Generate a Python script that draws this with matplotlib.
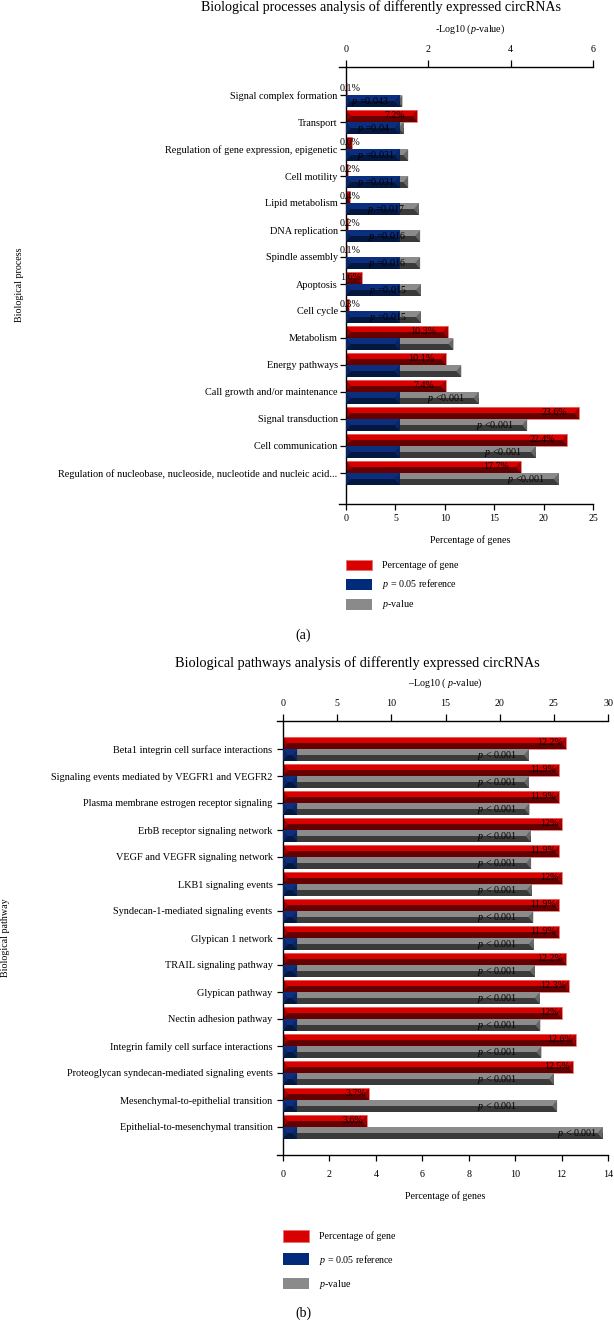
"""Two-panel enrichment bar chart for differently expressed circRNAs."""

import matplotlib

matplotlib.use("Agg")
import matplotlib.pyplot as plt
from matplotlib.patches import Patch

plt.rcParams["font.family"] = ["Liberation Serif", "DejaVu Serif"]
plt.rcParams["mathtext.fontset"] = "custom"
plt.rcParams["mathtext.it"] = "Liberation Serif:italic"
plt.rcParams["mathtext.rm"] = "Liberation Serif"

W, H = 614, 1322

# ---- panel (a): biological processes ----
process_names = [
    "Signal complex formation",
    "Transport",
    "Regulation of gene expression, epigenetic",
    "Cell motility",
    "Lipid metabolism",
    "DNA replication",
    "Spindle assembly",
    "Apoptosis",
    "Cell cycle",
    "Metabolism",
    "Energy pathways",
    "Call growth and/or maintenance",
    "Signal transduction",
    "Cell communication",
    "Regulation of nucleobase, nucleoside, nucleotide and nucleic acid...",
]
process_pct = [0.1, 7.2, 0.6, 0.2, 0.4, 0.2, 0.1, 1.6, 0.3, 10.3, 10.1, 10.1, 23.6, 22.4, 17.7]
process_pct_labels = ["0.1%", "7.2%", "0.6%", "0.2%", "0.4%", "0.2%", "0.1%", "1.6%",
                      "0.3%", "10.3%", "10.1%", "7.4%", "23.6%", "22.4%", "17.7%"]
process_logp = [1.37, 1.40, 1.51, 1.51, 1.77, 1.80, 1.80, 1.82, 1.82, 2.61, 2.80, 3.22, 4.40, 4.61, 5.17]
process_p_labels = ["$p$ =0.043", "$p$ =0.04", "$p$ =0.031", "$p$ =0.031", "$p$ =0.017",
                    "$p$ =0.016", "$p$ =0.016", "$p$ =0.015", "$p$ =0.015", "", "",
                    "$p$ <0.001", "$p$ <0.001", "$p$ <0.001", "$p$ <0.001"]

# ---- panel (b): biological pathways ----
pathway_names = [
    "Beta1 integrin cell surface interactions",
    "Signaling events mediated by VEGFR1 and VEGFR2",
    "Plasma membrane estrogen receptor signaling",
    "ErbB receptor signaling network",
    "VEGF and VEGFR signaling network",
    "LKB1 signaling events",
    "Syndecan-1-mediated signaling events",
    "Glypican 1 network",
    "TRAIL signaling pathway",
    "Glypican pathway",
    "Nectin adhesion pathway",
    "Integrin family cell surface interactions",
    "Proteoglycan syndecan-mediated signaling events",
    "Mesenchymal-to-epithelial transition",
    "Epithelial-to-mesenchymal transition",
]
pathway_pct = [12.2, 11.9, 11.9, 12, 11.9, 12, 11.9, 11.9, 12.2, 12.3, 12, 12.6, 12.5, 3.7, 3.6]
pathway_logp = [22.7, 22.7, 22.75, 22.85, 22.9, 22.95, 23.1, 23.15, 23.25, 23.7, 23.75, 23.85,
                25.0, 25.3, 29.5]

reference_logp = 1.3  # -log10(0.05)

RED = ("#d90000", "#640000", "#a30000")
BLUE = ("#0b2f7e", "#03173f", "#0a2560")
GRAY = ("#8b8b8b", "#3a3a3a", "#666666")


def fx(px):
    return px / W


def fy(py):
    return 1 - py / H


def bevel_barh(ax, ys, widths, height, colors, bevel, edge=None):
    light, dark, mid = colors
    ax.barh(ys, widths, height=height, color=dark, linewidth=0)
    ax.barh([y - height / 4 for y in ys], widths, height=height / 2, color=light, linewidth=0)
    for y, w in zip(ys, widths):
        b = min(bevel, w / 2)
        top, bot = y - height / 2, y + height / 2
        ax.fill([w, w, w - b], [top, bot, y], color=mid, lw=0)
        ax.fill([0, 0, b], [top, bot, y], color=mid, lw=0)
    if edge:
        ax.barh(ys, widths, height=height, fill=False, edgecolor=edge, linewidth=0.6)


def draw_panel(fig, box, names, pct, pct_labels, logp, p_labels, pct_ticks, logp_ticks,
               zero_px, row_px, style):
    left, right, top, bottom = box
    ax = fig.add_axes([fx(left), fy(bottom), fx(right - left), (bottom - top) / H])
    width_px = right - zero_px
    pct_pad = (zero_px - left) / width_px * pct_ticks[-1]
    logp_pad = (zero_px - left) / width_px * logp_ticks[-1]
    n = len(names)
    ys = list(range(n))
    y_top_gap = style["first_row"] / row_px
    y_bot_gap = style["last_gap"] / row_px

    ax.set_xlim(-pct_pad, pct_ticks[-1])
    ax.set_ylim(n - 1 + y_bot_gap, -y_top_gap)
    tax = ax.twiny()
    tax.set_xlim(-logp_pad, logp_ticks[-1])

    h = 11.5 / row_px
    off = 0.225
    pct_per_px = pct_ticks[-1] / width_px
    logp_per_px = logp_ticks[-1] / width_px

    red_y = [y - off for y in ys]
    low_y = [y + off for y in ys]
    bevel_barh(ax, red_y, pct, h, RED, 5 * pct_per_px, edge="#e97070")
    bevel_barh(tax, low_y, logp, h, GRAY, 5 * logp_per_px)
    bevel_barh(tax, low_y, [reference_logp] * n, h, BLUE, 5 * logp_per_px)

    # value labels on the percentage bars
    for y, v, lab in zip(red_y, pct, pct_labels):
        if v >= style["pct_small"]:
            ax.annotate(lab, (v, y), xytext=(-style["pct_offset"], 0.5), textcoords="offset points",
                        ha="right", va="center", fontsize=7.2)
        else:
            ax.annotate(lab, (0, y), xytext=(-4.5, 0.5), textcoords="offset points",
                        ha="left", va="center", fontsize=7.2)

    # p-value labels
    for y, v, lab in zip(low_y, logp, p_labels):
        if not lab:
            continue
        if style["p_fixed"] is not None and v < style["p_far"]:
            tax.annotate(lab, (style["p_fixed"], y), xytext=(0, -0.5), textcoords="offset points",
                         ha="right", va="center", fontsize=7.2)
        else:
            tax.annotate(lab, (v, y), xytext=(-style["p_offset"], -0.5), textcoords="offset points",
                         ha="right", va="center", fontsize=7.2)

    for spine in ("top", "right"):
        ax.spines[spine].set_visible(False)
    for spine in ("bottom", "left", "right"):
        tax.spines[spine].set_visible(False)
    ax.spines["left"].set_position(("data", 0))
    for s in (ax.spines["bottom"], ax.spines["left"], tax.spines["top"]):
        s.set_linewidth(1.0)

    ax.set_xticks(pct_ticks)
    ax.set_xticklabels([f"{t:g}" for t in pct_ticks])
    tax.set_xticks(logp_ticks)
    tax.set_xticklabels([f"{t:g}" for t in logp_ticks])
    ax.set_yticks(ys)
    ax.set_yticklabels(names)
    ax.tick_params(axis="x", direction="out", length=4.5, width=0.9, labelsize=7.2,
                   pad=style["bottom_pad"])
    tax.tick_params(axis="x", direction="out", length=5, width=0.9, labelsize=7.2,
                    pad=style["top_pad"])
    ax.tick_params(axis="y", direction="out", length=4.5, width=0.9, labelsize=7.4,
                   pad=style["y_pad"])
    return ax


fig = plt.figure(figsize=(W / 100, H / 100), dpi=100)

style_a = dict(first_row=28, last_gap=31, pct_small=5, pct_offset=8.6, p_fixed=None, p_far=0,
               p_offset=10, bottom_pad=2.5, top_pad=4.5, y_pad=1.5)
draw_panel(fig, (339, 593, 67, 504), process_names, process_pct, process_pct_labels,
           process_logp, process_p_labels, [0, 5, 10, 15, 20, 25], [0, 2, 4, 6],
           346, 27, style_a)

pathway_pct_labels = [f"{v:g}%" for v in pathway_pct]
pathway_p_labels = ["$p$ < 0.001"] * len(pathway_names)
style_b = dict(first_row=28, last_gap=28, pct_small=0, pct_offset=2.2, p_fixed=21.6, p_far=27,
               p_offset=3.6, bottom_pad=6.5, top_pad=4.5, y_pad=3)
draw_panel(fig, (277, 608, 721, 1155), pathway_names, pathway_pct, pathway_pct_labels,
           pathway_logp, pathway_p_labels, [0, 2, 4, 6, 8, 10, 12, 14],
           [0, 5, 10, 15, 20, 25, 30], 283, 27, style_b)

# titles and axis captions
fig.text(fx(381), fy(7), "Biological processes analysis of differently expressed circRNAs",
         ha="center", va="center", fontsize=10.1)
fig.text(fx(470), fy(29), "-Log10 ($p$-value)", ha="center", va="center", fontsize=7.2)
fig.text(fx(470), fy(540), "Percentage of genes", ha="center", va="center", fontsize=7.2)
fig.text(fx(20), fy(285), "Biological process", ha="center", va="center", rotation=90,
         fontsize=7.2)
fig.text(fx(303), fy(635), "(a)", ha="center", va="center", fontsize=10)

fig.text(fx(357), fy(663), "Biological pathways analysis of differently expressed circRNAs",
         ha="center", va="center", fontsize=10.3)
fig.text(fx(445), fy(683), "\u2013Log10 ( $p$-value)", ha="center", va="center", fontsize=7.2)
fig.text(fx(445), fy(1196), "Percentage of genes", ha="center", va="center", fontsize=7.2)
fig.text(fx(6), fy(938), "Biological pathway", ha="center", va="center", rotation=90,
         fontsize=7.2)
fig.text(fx(303), fy(1313), "(b)", ha="center", va="center", fontsize=10)

legend_handles = [
    Patch(facecolor=RED[0], edgecolor="#e97070", linewidth=0.6, label="Percentage of gene"),
    Patch(facecolor="#002a7a", label="$p$ = 0.05 reference"),
    Patch(facecolor="#8a8a8a", label="$p$-value"),
]
fig.legend(handles=legend_handles, loc="upper left", bbox_to_anchor=(fx(346), fy(559.5)),
           frameon=False, fontsize=7.2, handlelength=2.6, handleheight=1.3, labelspacing=0.7,
           handletextpad=1.0, borderpad=0, borderaxespad=0)
fig.legend(handles=legend_handles, loc="upper left", bbox_to_anchor=(fx(283), fy(1230)),
           frameon=False, fontsize=7.2, handlelength=2.6, handleheight=1.4, labelspacing=1.1,
           handletextpad=1.0, borderpad=0, borderaxespad=0)

fig.savefig("out.png", dpi=100)
